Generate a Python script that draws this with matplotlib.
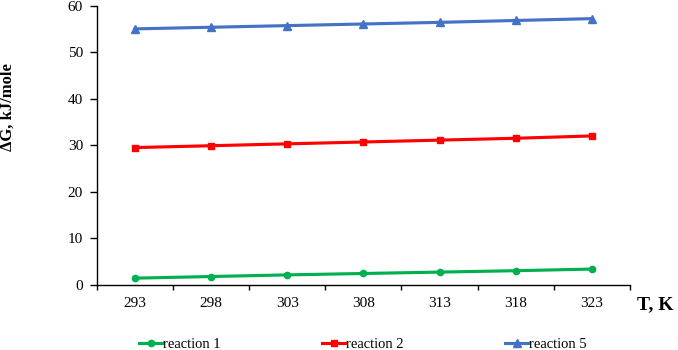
import matplotlib.pyplot as plt

plt.rcParams['font.family'] = ['Liberation Serif', 'DejaVu Serif']

temps = ['293', '298', '303', '308', '313', '318', '323']
reaction1 = [1.45, 1.8, 2.15, 2.45, 2.75, 3.05, 3.4]
reaction2 = [29.5, 29.9, 30.3, 30.7, 31.1, 31.5, 32.0]
reaction5 = [55.0, 55.35, 55.7, 56.05, 56.4, 56.8, 57.2]

fig = plt.figure(figsize=(6.78, 3.5), dpi=100)
ax = fig.add_axes([0.143, 0.186, 0.786, 0.798])

x = range(len(temps))
l1, = ax.plot(x, reaction1, color='#00B050', lw=2.25, marker='o', ms=4.5, label='reaction 1')
l2, = ax.plot(x, reaction2, color='#FF0000', lw=2.25, marker='s', ms=5, label='reaction 2')
l5, = ax.plot(x, reaction5, color='#4472C4', lw=2.25, marker='^', ms=5.5, label='reaction 5')

ax.set_xlim(-0.5, len(temps) - 0.5)
ax.set_ylim(0, 60)
ax.set_yticks(range(0, 61, 10))
ax.set_xticks(x)
ax.set_xticklabels(temps)
# tick marks sit between categories, labels centred on them
ax.set_xticks([i - 0.5 for i in range(len(temps) + 1)], minor=True)
ax.tick_params(axis='x', which='major', length=0, pad=9, labelsize=11)
ax.tick_params(axis='x', which='minor', length=3.5, direction='out', width=1)
ax.tick_params(axis='y', length=5, direction='out', width=1, labelsize=11, pad=5)

for s in ['top', 'right']:
    ax.spines[s].set_visible(False)
for s in ['left', 'bottom']:
    ax.spines[s].set_linewidth(1)

fig.text(0.012, 0.695, 'ΔG, kJ/mole', rotation=90, ha='center', va='center',
         fontsize=12, fontweight='bold')
fig.text(0.94, 0.128, 'T, K', ha='left', va='center', fontsize=14, fontweight='bold')

fig.legend(handles=[l1, l2, l5], loc='center', bbox_to_anchor=(0.535, 0.015),
           ncol=3, frameon=False, fontsize=10.5, handlelength=1.65,
           handletextpad=0.05, columnspacing=6.9, borderpad=0)

fig.savefig('out.png', dpi=100)
